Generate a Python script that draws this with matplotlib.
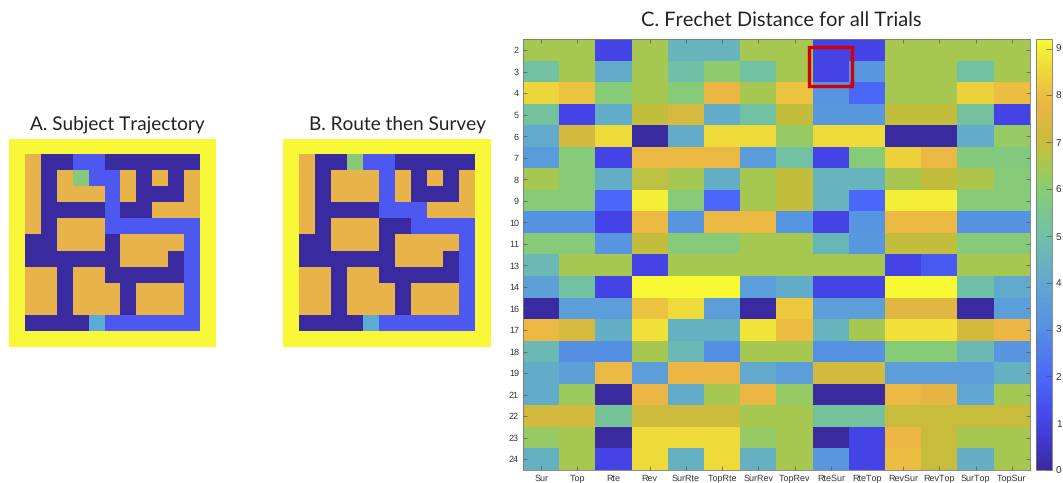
import numpy as np
import matplotlib
matplotlib.use("Agg")
import matplotlib.pyplot as plt
from matplotlib.colors import LinearSegmentedColormap, ListedColormap
from matplotlib.patches import Rectangle

W, H = 1063, 483

# O wall, D dark path, B blue path, G start, T goal, Y outer border
map_a = [
    "YYYYYYYYYYYYY",
    "YODDBBDDDDDDY",
    "YODOGBBODODOY",
    "YODOOOBODDDOY",
    "YODDDDBDDOOOY",
    "YODOOOBBBBBBY",
    "YDDOOODOOOOBY",
    "YDDDDDDOOODBY",
    "YOODOODDDDDBY",
    "YOODOOODOOOBY",
    "YOODOOODOOOBY",
    "YDDDDTBBBBBBY",
    "YYYYYYYYYYYYY",
]
map_b = [
    "YYYYYYYYYYYYY",
    "YODDGBBDDDDDY",
    "YODOOOBODODOY",
    "YODOOOBODDDOY",
    "YODDDDBBBOOOY",
    "YODOOODDBBBBY",
    "YDDOOODOOOOBY",
    "YDDDDDDOOODBY",
    "YOODOODDDDDBY",
    "YOODOOODOOOBY",
    "YOODOOODOOOBY",
    "YDDDDTBBBBBBY",
    "YYYYYYYYYYYYY",
]
map_codes = "DBTGOY"
map_colors = ["#3a2aa0", "#4c58f0", "#5caad8", "#88c878", "#e8b44a", "#f8f838"]

conditions = ["Sur", "Top", "Rte", "Rev", "SurRte", "TopRte", "SurRev", "TopRev",
              "RteSur", "RteTop", "RevSur", "RevTop", "SurTop", "TopSur"]
trials = [2, 3, 4, 5, 6, 7, 8, 9, 10, 11, 13, 14, 16, 17, 18, 19, 21, 22, 23, 24]

frechet = [
    [6.5, 6.5, 1.0, 6.5, 4.5, 4.5, 6.5, 6.5, 1.0, 1.0, 6.5, 6.5, 6.5, 6.5],
    [5.1, 6.5, 4.2, 6.5, 5.0, 6.1, 5.1, 6.5, 1.0, 3.3, 6.5, 6.5, 5.1, 6.5],
    [8.5, 8.1, 5.9, 6.5, 5.9, 7.8, 6.5, 8.1, 3.2, 2.0, 6.5, 6.5, 8.4, 8.0],
    [5.2, 1.0, 4.2, 6.9, 7.3, 4.2, 5.1, 6.9, 3.3, 3.3, 6.9, 6.9, 5.2, 1.0],
    [4.1, 7.2, 8.6, 0.0, 4.2, 8.6, 8.6, 6.2, 8.6, 8.6, 0.0, 0.0, 4.2, 6.2],
    [3.5, 5.9, 1.0, 7.9, 7.9, 7.9, 3.5, 5.1, 1.0, 5.9, 8.4, 7.9, 5.8, 5.8],
    [6.5, 5.9, 4.3, 6.8, 6.5, 4.3, 6.5, 6.9, 4.5, 4.5, 6.5, 6.9, 6.6, 5.9],
    [5.9, 5.9, 2.0, 9.0, 5.9, 2.0, 6.5, 6.9, 4.5, 2.0, 9.0, 9.0, 5.9, 5.9],
    [3.1, 3.1, 1.0, 7.9, 3.2, 7.9, 7.9, 3.2, 1.0, 3.2, 7.9, 7.9, 3.1, 3.1],
    [5.9, 5.9, 3.2, 6.9, 5.9, 5.9, 6.5, 6.5, 4.6, 3.3, 6.9, 6.9, 5.9, 5.9],
    [4.7, 6.5, 6.5, 1.0, 6.5, 6.5, 6.5, 6.5, 6.5, 6.5, 1.0, 1.6, 6.5, 6.5],
    [3.7, 5.1, 1.0, 9.2, 9.2, 9.2, 3.6, 4.2, 1.0, 1.0, 9.2, 9.2, 5.0, 4.1],
    [0.0, 3.6, 3.6, 8.1, 8.6, 3.6, 0.0, 8.2, 3.6, 3.6, 7.6, 7.6, 0.0, 3.6],
    [7.9, 7.3, 4.3, 8.7, 4.4, 4.4, 8.8, 8.0, 4.5, 6.5, 8.7, 8.7, 7.2, 7.8],
    [4.7, 3.0, 3.0, 6.5, 4.7, 3.0, 6.5, 6.5, 3.1, 3.1, 5.9, 5.9, 4.7, 3.2],
    [4.2, 3.7, 7.9, 3.6, 7.8, 7.8, 4.1, 3.6, 7.2, 7.2, 3.6, 3.6, 3.6, 4.4],
    [4.2, 6.3, 0.0, 7.8, 4.2, 6.5, 7.8, 6.2, 0.0, 0.0, 7.9, 7.7, 4.0, 6.4],
    [7.2, 7.2, 5.3, 7.1, 7.1, 7.1, 6.5, 6.5, 5.2, 5.2, 7.0, 7.0, 7.0, 7.0],
    [6.2, 6.5, 0.0, 8.6, 8.6, 8.6, 6.2, 6.5, 0.0, 1.0, 7.8, 7.0, 6.5, 6.5],
    [4.4, 6.5, 1.0, 8.6, 4.4, 8.6, 4.4, 6.5, 3.3, 1.0, 8.0, 7.0, 4.3, 6.5],
]
colorbar_ticks = [0, 1, 2, 3, 4, 5, 6, 7, 8, 9]

# parula-like map, stops
stops = [
    (0.0 / 9.2, "#3a2aa0"), (1.0 / 9.2, "#4444e8"), (2.0 / 9.2, "#4c68f8"),
    (3.0 / 9.2, "#5590e4"), (4.0 / 9.2, "#60a8d2"), (5.0 / 9.2, "#70c0a8"),
    (6.0 / 9.2, "#88cc74"), (6.5 / 9.2, "#a8c850"), (7.0 / 9.2, "#c8bc3c"),
    (7.8 / 9.2, "#ebb545"), (8.6 / 9.2, "#eeda3a"), (1.0, "#f8f835"),
]
parula = LinearSegmentedColormap.from_list("parula_like", stops)

plt.rcParams["text.hinting"] = "none"
plt.rcParams["text.hinting_factor"] = 1


def axes_px(fig, left, top, right, bottom):
    return fig.add_axes([left / W, 1 - bottom / H, (right - left) / W, (bottom - top) / H])


def draw_map(fig, rows, box, title, title_x):
    ax = axes_px(fig, *box)
    grid = np.array([[map_codes.index(c) for c in row] for row in rows])
    ax.imshow(grid, cmap=ListedColormap(map_colors), vmin=0, vmax=5,
              interpolation="nearest", aspect="auto")
    ax.axis("off")
    fig.text(title_x / W, 1 - 124 / H, title, ha="center", va="center",
             family="Lato", fontsize=13.35, color="#222222")


fig = plt.figure(figsize=(W / 100, H / 100), dpi=100)

draw_map(fig, map_a, (9, 139, 216, 347), "A. Subject Trajectory", 117)
draw_map(fig, map_b, (282.5, 139, 490, 347), "B. Route then Survey", 397.5)

ax = axes_px(fig, 523, 39.3, 1030, 470)
im = ax.imshow(np.array(frechet), cmap=parula, vmin=0, vmax=9.2,
               interpolation="nearest", aspect="auto")
ax.set_xticks(range(len(conditions)), conditions)
ax.set_yticks(range(len(trials)), trials)
ax.tick_params(direction="in", top=True, right=True, length=3, width=0.5,
               color="#555555", labelsize=6.7, labelcolor="#333333", pad=3)
for label in ax.get_xticklabels() + ax.get_yticklabels():
    label.set_family("Liberation Sans")
for spine in ax.spines.values():
    spine.set_linewidth(0.6)
    spine.set_color("#777777")

# red box around the highlighted cell
ax.add_patch(Rectangle((7.41, -0.14), 1.18, 1.79, fill=False, edgecolor="#d40000",
                       linewidth=2.4, clip_on=False))

fig.text(781 / W, 1 - 20 / H, "C. Frechet Distance for all Trials", ha="center", va="center",
         family="Lato", fontsize=14.3, color="#222222")

cax = axes_px(fig, 1035.7, 39.3, 1051.7, 470)
cbar = fig.colorbar(im, cax=cax)
cbar.set_ticks(colorbar_ticks)
cbar.ax.tick_params(direction="in", length=4, width=0.5, color="#555555",
                    labelsize=7, labelcolor="#333333", pad=3)
for label in cbar.ax.get_yticklabels():
    label.set_family("Liberation Sans")
cbar.outline.set_linewidth(0.6)
cbar.outline.set_edgecolor("#777777")

fig.savefig("out.png", dpi=100)
